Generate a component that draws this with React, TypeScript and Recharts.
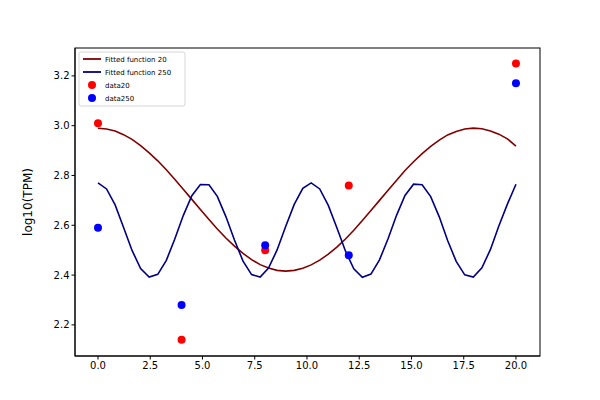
import { ComposedChart, Line, Scatter, XAxis, YAxis } from "recharts"

const fitX = [0, 0.41, 0.82, 1.22, 1.63, 2.04, 2.45, 2.86, 3.27, 3.67, 4.08, 4.49, 4.9, 5.31, 5.71, 6.12, 6.53, 6.94, 7.35, 7.76, 8.16, 8.57, 8.98, 9.39, 9.8, 10.2, 10.61, 11.02, 11.43, 11.84, 12.24, 12.65, 13.06, 13.47, 13.88, 14.29, 14.69, 15.1, 15.51, 15.92, 16.33, 16.73, 17.14, 17.55, 17.96, 18.37, 18.78, 19.18, 19.59, 20]
const fit20 = [2.99, 2.987, 2.979, 2.964, 2.945, 2.92, 2.891, 2.859, 2.823, 2.785, 2.745, 2.704, 2.663, 2.623, 2.585, 2.549, 2.516, 2.487, 2.462, 2.442, 2.428, 2.419, 2.416, 2.419, 2.427, 2.441, 2.46, 2.484, 2.512, 2.545, 2.58, 2.619, 2.659, 2.7, 2.741, 2.781, 2.82, 2.855, 2.888, 2.917, 2.942, 2.963, 2.977, 2.987, 2.99, 2.988, 2.979, 2.966, 2.947, 2.918]
const fit250 = [2.77, 2.746, 2.682, 2.592, 2.499, 2.426, 2.392, 2.403, 2.459, 2.544, 2.639, 2.719, 2.764, 2.763, 2.716, 2.635, 2.541, 2.456, 2.402, 2.392, 2.428, 2.501, 2.595, 2.684, 2.748, 2.77, 2.746, 2.68, 2.59, 2.497, 2.425, 2.391, 2.404, 2.461, 2.546, 2.641, 2.72, 2.765, 2.763, 2.715, 2.634, 2.539, 2.455, 2.401, 2.392, 2.429, 2.503, 2.597, 2.685, 2.765]
const sampleX = [0, 4, 8, 12, 20]
const data20 = [3.01, 2.14, 2.5, 2.76, 3.25]
const data250 = [2.59, 2.28, 2.52, 2.48, 3.17]
const xTicks = [0, 2.5, 5, 7.5, 10, 12.5, 15, 17.5, 20]
const yTicks = [2.2, 2.4, 2.6, 2.8, 3.0, 3.2]

const line20 = fitX.map((x, i) => ({ x, y: fit20[i] }))
const line250 = fitX.map((x, i) => ({ x, y: fit250[i] }))
const pts20 = sampleX.map((x, i) => ({ x, y: data20[i] }))
const pts250 = sampleX.map((x, i) => ({ x, y: data250[i] }))

const font = "DejaVu Sans"
const tickStyle = { fontSize: 10, fill: "#000", fontFamily: font }

const Dot = (props: any) => <circle cx={props.cx} cy={props.cy} r={4} fill={props.fill} />

// legend + the closed matplotlib frame
function Overlay() {
  const row = (y: number, kind: "line" | "dot", color: string, label: string) => (
    <g key={label}>
      {kind === "line"
        ? <line x1={83} x2={101} y1={y} y2={y} stroke={color} strokeWidth={1.8} />
        : <circle cx={92} cy={y} r={4} fill={color} />}
      <text x={105} y={y + 2.5} fontSize={7} fontFamily={font}>{label}</text>
    </g>
  )
  return (
    <g>
      <rect x={75} y={48} width={465} height={308} fill="none" stroke="#000" strokeWidth={1} />
      <rect x={79} y={52} width={106} height={54} rx={2} fill="#fff" fillOpacity={0.8} stroke="#ccc" strokeWidth={0.8} />
      {row(59, "line", "#800000", "Fitted function 20")}
      {row(72, "line", "#000080", "Fitted function 250")}
      {row(85, "dot", "#ff0000", "data20")}
      {row(98, "dot", "#0000ff", "data250")}
    </g>
  )
}

export default function App() {
  return (
    <div style={{ position: "fixed", left: 0, top: 0, width: 600, height: 400, background: "#fff" }}>
      <ComposedChart width={600} height={400} margin={{ top: 48, right: 60, bottom: 0, left: 0 }}>
        <XAxis dataKey="x" type="number" domain={[-1.1, 21.15]} ticks={xTicks} allowDataOverflow
          tickFormatter={(v: number) => v.toFixed(1)} tick={tickStyle} height={44}
          stroke="#000" tickSize={3.5} tickLine={{ stroke: "#000" }} />
        <YAxis dataKey="y" type="number" domain={[2.075, 3.312]} ticks={yTicks} allowDataOverflow
          tickFormatter={(v: number) => v.toFixed(1)} tick={tickStyle} width={75}
          stroke="#000" tickSize={3.5}
          label={{ value: "log10(TPM)", angle: -90, position: "insideLeft", offset: 28, style: { fontSize: 12, fontFamily: font, fill: "#000", textAnchor: "middle" } }} />
        <Line data={line20} dataKey="y" stroke="#800000" strokeWidth={1.6} dot={false} type="linear" isAnimationActive={false} />
        <Line data={line250} dataKey="y" stroke="#000080" strokeWidth={1.6} dot={false} type="linear" isAnimationActive={false} />
        <Scatter data={pts20} dataKey="y" fill="#ff0000" shape={Dot} isAnimationActive={false} />
        <Scatter data={pts250} dataKey="y" fill="#0000ff" shape={Dot} isAnimationActive={false} />
        <Overlay />
      </ComposedChart>
    </div>
  )
}
